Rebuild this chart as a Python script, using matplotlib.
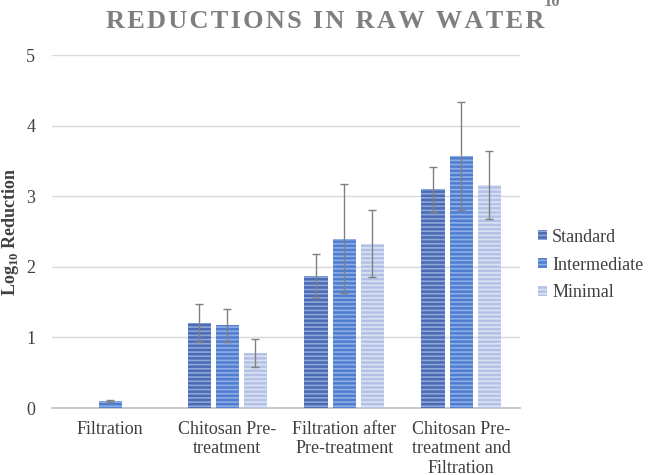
import matplotlib.pyplot as plt
import numpy as np

plt.rcParams['font.family'] = ['Liberation Serif', 'DejaVu Serif']
plt.rcParams['mathtext.fontset'] = 'custom'
plt.rcParams['mathtext.rm'] = 'Liberation Serif'
plt.rcParams['mathtext.bf'] = 'Liberation Serif:bold'
plt.rcParams['hatch.linewidth'] = 1.2

categories = ['Filtration', 'Chitosan Pre-\ntreatment', 'Filtration after\nPre-treatment',
              'Chitosan Pre-\ntreatment and\nFiltration']
series = ['Standard', 'Intermediate', 'Minimal']
standard = [0.0, 1.20, 1.87, 3.10]
intermediate = [0.10, 1.17, 2.40, 3.57]
minimal = [0.0, 0.78, 2.33, 3.16]
standard_err = [0.0, 0.27, 0.31, 0.32]
intermediate_err = [0.02, 0.23, 0.77, 0.77]
minimal_err = [0.0, 0.20, 0.48, 0.48]

colors = ['#4a6cb4', '#4f7ed0', '#b3c1e6']
hatch_colors = ['#8fa6d8', '#8eaee6', '#dbe2f4']

fig = plt.figure(figsize=(6.48, 4.75), dpi=100)
ax = fig.add_axes([0.080, 0.141, 0.722, 0.743])

x = np.arange(len(categories))
w = 0.2
step = 0.24
data = [standard, intermediate, minimal]
errs = [standard_err, intermediate_err, minimal_err]
for i, (vals, err) in enumerate(zip(data, errs)):
    pos = x + (i - 1) * step
    ax.bar(pos, vals, w, color=colors[i], edgecolor=hatch_colors[i], hatch='----',
           linewidth=0, label=series[i], zorder=3)
    mask = np.array(vals) > 0
    ax.errorbar(pos[mask], np.array(vals)[mask], yerr=np.array(err)[mask], fmt='none',
                ecolor='#808080', elinewidth=1, capsize=3, capthick=1, zorder=4)

ax.set_xlim(-0.5, 3.5)
ax.set_ylim(0, 5)
ax.set_yticks(range(6))
ax.grid(axis='y', color='#d9d9d9', linewidth=1, zorder=0)
ax.set_xticks(x)
ax.set_xticklabels(categories, fontsize=13, color='#404040')
ax.tick_params(axis='y', labelsize=13, labelcolor='#404040', length=0, pad=12)
ax.tick_params(axis='x', length=0, pad=9)
for s in ['top', 'right', 'left']:
    ax.spines[s].set_visible(False)
ax.spines['bottom'].set_color('#bfbfbf')
ax.spines['bottom'].set_linewidth(1.2)

ax.set_ylabel(r'Log$_{\mathbf{10}}$ Reduction', fontsize=13, fontweight='bold', color='#404040')
ax.yaxis.set_label_coords(-0.066, 0.5)

ax.legend(loc='center left', bbox_to_anchor=(1.0, 0.405), frameon=False, fontsize=13,
          handlelength=0.5, handleheight=0.5, handletextpad=0.3, labelspacing=0.6,
          labelcolor='#404040', borderaxespad=0.6)

title = '\u200a'.join('REDUCTIONS IN RAW WATER')
fig.text(0.502, 0.955, title, ha='center', va='center', fontsize=19,
         fontweight='bold', color='#7f7f7f')
fig.text(0.852, 0.995, '10', ha='center', va='center', fontsize=12, fontweight='bold',
         color='#7f7f7f')

fig.savefig('out.png', dpi=100)
